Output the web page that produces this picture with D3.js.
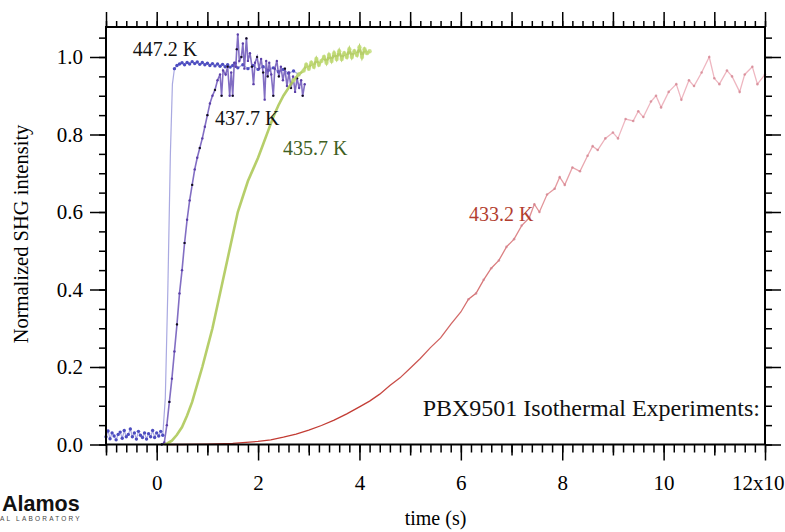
<!DOCTYPE html>
<html><head><meta charset="utf-8">
<script src="https://cdn.jsdelivr.net/npm/d3@7"></script>
<style>html,body{margin:0;padding:0;background:#fff;} svg{display:block;}</style>
</head><body><svg id="c" width="785" height="532"></svg>
<script>
// ---------- data (time in units of 10^x s, normalized SHG intensity) ----------
const seriesNames = ["447.2 K", "437.7 K", "435.7 K", "433.2 K"];
const s447 = [[-1.0,0.02],[-0.96,0.035],[-0.92,0.015],[-0.88,0.03],[-0.84,0.022],[-0.8,0.012],[-0.76,0.026],[-0.72,0.032],[-0.68,0.016],[-0.64,0.036],[-0.6,0.02],[-0.56,0.026],[-0.52,0.04],[-0.48,0.02],[-0.44,0.03],[-0.4,0.014],[-0.36,0.034],[-0.32,0.024],[-0.28,0.018],[-0.24,0.03],[-0.2,0.014],[-0.16,0.028],[-0.12,0.02],[-0.08,0.036],[-0.04,0.018],[0.0,0.03],[0.04,0.022],[0.08,0.034],[0.12,0.024],
  [0.17,0.12],[0.22,0.4],[0.27,0.75],[0.31,0.93],[0.35,0.97],
  [0.4,0.978],[0.45,0.982],[0.5,0.985],[0.55,0.98],[0.6,0.986],[0.65,0.982],[0.7,0.988],[0.75,0.983],[0.8,0.987],[0.85,0.981],[0.9,0.986],[0.95,0.98],[1.0,0.984],[1.05,0.978],[1.1,0.983],[1.15,0.977],[1.2,0.982],[1.25,0.976],[1.3,0.981],[1.35,0.975],[1.4,0.98],[1.45,0.974],[1.5,0.978],[1.55,0.984],[1.6,0.972],[1.7,0.98],[1.8,0.97],[1.9,0.978],[2.0,0.968],[2.1,0.975],[2.2,0.965],[2.3,0.972],[2.4,0.962],[2.5,0.968],[2.6,0.958],[2.7,0.964],[2.8,0.955]];
const s437 = [[0.1,0.0],[0.15,0.005],[0.2,0.05],[0.25,0.11],[0.3,0.17],[0.35,0.24],[0.4,0.31],[0.45,0.39],[0.5,0.45],[0.55,0.52],[0.6,0.58],[0.65,0.63],[0.7,0.67],[0.75,0.71],[0.8,0.74],[0.85,0.765],[0.9,0.79],[0.95,0.82],[1.0,0.85],[1.05,0.88],[1.1,0.9],[1.15,0.915],[1.2,0.94],[1.25,0.955],[1.28,0.9],[1.31,0.965],[1.36,0.955],[1.4,0.975],[1.44,0.9],[1.47,0.96],[1.5,0.9],[1.53,0.985],[1.56,0.975],[1.58,1.02],[1.6,1.058],[1.63,0.99],[1.67,1.0],[1.7,1.035],[1.73,0.97],[1.77,1.048],[1.8,0.99],[1.84,1.01],[1.88,0.975],[1.91,0.93],[1.94,0.985],[1.98,1.0],[2.02,0.97],[2.06,0.995],[2.1,0.96],[2.13,0.89],[2.16,0.99],[2.19,0.95],[2.22,0.985],[2.26,0.955],[2.3,0.9],[2.33,0.97],[2.37,0.99],[2.41,0.95],[2.45,0.975],[2.49,0.94],[2.53,0.97],[2.57,0.925],[2.61,0.96],[2.65,0.92],[2.69,0.95],[2.73,0.91],[2.77,0.945],[2.81,0.92],[2.85,0.94],[2.88,0.9],[2.92,0.93]];
const s435 = [[0.15,0.0],[0.2,0.002],[0.3,0.01],[0.4,0.025],[0.5,0.045],[0.6,0.075],[0.7,0.11],[0.8,0.155],[0.9,0.2],[1.0,0.25],[1.1,0.3],[1.2,0.36],[1.3,0.42],[1.4,0.48],[1.5,0.54],[1.6,0.6],[1.7,0.64],[1.8,0.68],[1.9,0.71],[2.0,0.74],[2.1,0.775],[2.2,0.81],[2.3,0.845],[2.4,0.875],[2.5,0.9],[2.6,0.92],[2.7,0.94],[2.8,0.955],[2.9,0.965],[2.95,0.98],[3.0,0.97],[3.05,0.985],[3.1,0.975],[3.15,0.995],[3.2,0.98],[3.25,0.99],[3.3,1.0],[3.35,0.985],[3.4,1.005],[3.45,0.99],[3.5,1.01],[3.55,0.995],[3.6,1.015],[3.65,0.995],[3.7,1.01],[3.75,1.0],[3.8,1.02],[3.85,1.0],[3.9,1.015],[3.95,1.005],[4.0,1.025],[4.05,1.0],[4.1,1.02],[4.15,1.01],[4.2,1.015]];
const s433 = [[0.2,0.0],[0.5,0.0],[1.0,0.001],[1.5,0.003],[2.0,0.008],[2.25,0.012],[2.5,0.019],[2.75,0.027],[3.0,0.037],[3.25,0.049],[3.5,0.063],[3.75,0.079],[4.0,0.097],[4.2,0.112],[4.4,0.13],[4.6,0.152],[4.8,0.172],[5.0,0.197],[5.2,0.222],[5.4,0.25],[5.6,0.275],[5.8,0.31],[6.0,0.342],[6.15,0.375],[6.3,0.39],[6.45,0.425],[6.6,0.455],[6.75,0.475],[6.9,0.51],[7.05,0.53],[7.2,0.565],[7.35,0.585],[7.45,0.62],[7.55,0.6],[7.7,0.645],[7.85,0.66],[7.95,0.69],[8.05,0.67],[8.2,0.715],[8.35,0.705],[8.5,0.745],[8.6,0.77],[8.7,0.76],[8.85,0.79],[9.0,0.805],[9.1,0.79],[9.25,0.84],[9.4,0.835],[9.5,0.86],[9.6,0.845],[9.75,0.885],[9.85,0.9],[9.95,0.87],[10.1,0.91],[10.25,0.93],[10.35,0.89],[10.5,0.94],[10.6,0.925],[10.75,0.96],[10.9,1.0],[11.0,0.945],[11.1,0.93],[11.25,0.965],[11.35,0.95],[11.5,0.91],[11.6,0.955],[11.75,0.975],[11.85,0.93],[12.0,0.955]];
// label anchor positions in data units
const labelPos = [[-0.47,1.003],[1.15,0.8245],[2.49,0.747],[6.16,0.577]];
const noteText = "PBX9501 Isothermal Experiments:";
const notePos = [11.9,0.0735];
const xTickValues = [0,2,4,6,8,10,12];
const xTickLabels = ["0","2","4","6","8","10","12x10"];
const yTickValues = [0,0.2,0.4,0.6,0.8,1.0];
const yTickLabels = ["0.0","0.2","0.4","0.6","0.8","1.0"];
const xTitle = "time (s)";
const yTitle = "Normalized SHG intensity";

// ---------- drawing ----------
const svg = d3.select("#c");
const L=106, R=765, T=27, B=444.5;
const x = d3.scaleLinear().domain([-1,12]).range([L,R]);
const y = d3.scaleLinear().domain([0,1]).range([B,57]);
const serif = "'Liberation Serif','Times New Roman',serif";

const defs = svg.append("defs");
const grad = defs.append("linearGradient").attr("id","redg").attr("gradientUnits","userSpaceOnUse")
  .attr("x1",x(4)).attr("x2",x(9)).attr("y1",0).attr("y2",0);
grad.append("stop").attr("offset","0").attr("stop-color","#c23b33");
grad.append("stop").attr("offset","1").attr("stop-color","#eeb6c0");

const line = d3.line().x(d=>x(d[0])).y(d=>y(d[1]));
const plot = svg.append("g");

// red 433.2 K
plot.append("path").datum(s433).attr("d",line).attr("fill","none")
  .attr("stroke","url(#redg)").attr("stroke-width",1.3);
plot.selectAll(".r").data(s433.filter(d=>d[0]>6)).enter().append("circle")
  .attr("cx",d=>x(d[0])).attr("cy",d=>y(d[1])).attr("r",1.3).attr("fill","#d27f8c").attr("opacity",0.7);

// blue 447.2 K
plot.append("path").datum(s447).attr("d",line).attr("fill","none")
  .attr("stroke","#5454c4").attr("stroke-width",1.2).attr("stroke-opacity",0.5);
plot.selectAll(".b").data(s447.filter(d=>d[1]<0.1||d[1]>0.95)).enter().append("circle")
  .attr("cx",d=>x(d[0])).attr("cy",d=>y(d[1])).attr("r",1.7).attr("fill","#4d4dc0");

// purple 437.7 K
plot.append("path").datum(s437).attr("d",line).attr("fill","none")
  .attr("stroke","#6c55b8").attr("stroke-width",1.6).attr("stroke-opacity",0.85);
plot.selectAll(".p").data(s437).enter().append("circle")
  .attr("cx",d=>x(d[0])).attr("cy",d=>y(d[1])).attr("r",1.2).attr("fill","#5b3fa8");
plot.selectAll(".k").data(s437.filter((d,i)=>i%3===0)).enter().append("circle")
  .attr("cx",d=>x(d[0])).attr("cy",d=>y(d[1])).attr("r",1.1).attr("fill","#111");

// green 435.7 K
plot.append("path").datum(s435).attr("d",line).attr("fill","none")
  .attr("stroke","#a9c650").attr("stroke-width",2.6).attr("stroke-opacity",0.85);
plot.selectAll(".g").data(s435.filter(d=>d[0]>2.6)).enter().append("circle")
  .attr("cx",d=>x(d[0])).attr("cy",d=>y(d[1])).attr("r",2.2).attr("fill","#c2dc78").attr("opacity",0.8);

// axes
function styleAxis(g){ g.select(".domain").remove(); g.selectAll("line").attr("stroke","#000").attr("stroke-width",1.5); g.selectAll("text").attr("font-family",serif).attr("font-size",21).attr("fill","#000"); }
const ints = d3.range(-1,13);
const fifths = d3.range(-5,61).map(i=>i/5);
const yMinor = d3.range(0,22).map(i=>i/20);

svg.append("g").attr("transform",`translate(${L},0)`).call(d3.axisLeft(y).tickValues(yMinor).tickSize(7).tickFormat("")).call(styleAxis);
svg.append("g").attr("transform",`translate(${L},0)`).call(d3.axisLeft(y).tickValues(yTickValues).tickSize(16).tickPadding(7).tickFormat((d,i)=>yTickLabels[i])).call(styleAxis);
svg.append("g").attr("transform",`translate(${R},0)`).call(d3.axisRight(y).tickValues(yMinor).tickSize(7).tickFormat("")).call(styleAxis);
svg.append("g").attr("transform",`translate(${R},0)`).call(d3.axisRight(y).tickValues(yTickValues).tickSize(16).tickFormat("")).call(styleAxis);

svg.append("g").attr("transform",`translate(0,${T})`).call(d3.axisTop(x).tickValues(fifths).tickSize(6).tickFormat("")).call(styleAxis);
svg.append("g").attr("transform",`translate(0,${T})`).call(d3.axisTop(x).tickValues(ints).tickSize(15).tickFormat("")).call(styleAxis);

svg.append("g").attr("transform",`translate(0,${B})`).call(d3.axisBottom(x).tickValues(fifths).tickSize(8).tickFormat("")).call(styleAxis);
svg.append("g").attr("transform",`translate(0,${B})`).call(d3.axisBottom(x).tickValues(ints.filter(d=>d%2!==0)).tickSize(11).tickFormat("")).call(styleAxis);
const xAx = svg.append("g").attr("transform",`translate(0,${B})`).call(d3.axisBottom(x).tickValues(xTickValues).tickSize(16).tickPadding(15).tickFormat((d,i)=>xTickLabels[i])).call(styleAxis);
// keep the last label inside the canvas
xAx.selectAll(".tick text").filter((d,i)=>i===xTickValues.length-1).attr("text-anchor","end").attr("x",784-R);

// frame
svg.append("rect").attr("x",L).attr("y",T).attr("width",R-L).attr("height",B-T)
  .attr("fill","none").attr("stroke","#000").attr("stroke-width",2);

// series labels
const labelColors = ["#111","#111","#3f5f22","#b23e30"];
svg.selectAll(".lbl").data(seriesNames).enter().append("text")
  .attr("x",(d,i)=>x(labelPos[i][0])).attr("y",(d,i)=>y(labelPos[i][1]))
  .attr("font-family",serif).attr("font-size",20).attr("fill",(d,i)=>labelColors[i]).text(d=>d);

svg.append("text").attr("x",x(notePos[0])).attr("y",y(notePos[1])).attr("text-anchor","end")
  .attr("font-family",serif).attr("font-size",24).attr("fill","#111").text(noteText);

// titles
svg.append("text").attr("x",(L+R)/2).attr("y",525).attr("text-anchor","middle")
  .attr("font-family",serif).attr("font-size",20).text(xTitle);
svg.append("text").attr("transform",`translate(28,234) rotate(-90)`).attr("text-anchor","middle")
  .attr("font-family",serif).attr("font-size",20.5).text(yTitle);

// logo fragment
svg.append("text").attr("x",2).attr("y",511).attr("font-family","'Liberation Sans',Arial,sans-serif")
  .attr("font-weight","bold").attr("font-size",21.5).attr("fill","#111").text("Alamos");
svg.append("text").attr("x",0).attr("y",521).attr("font-family","'Liberation Sans',Arial,sans-serif")
  .attr("font-size",6.5).attr("letter-spacing",2.2).attr("fill","#444").text("AL LABORATORY");
</script>
</body></html>
